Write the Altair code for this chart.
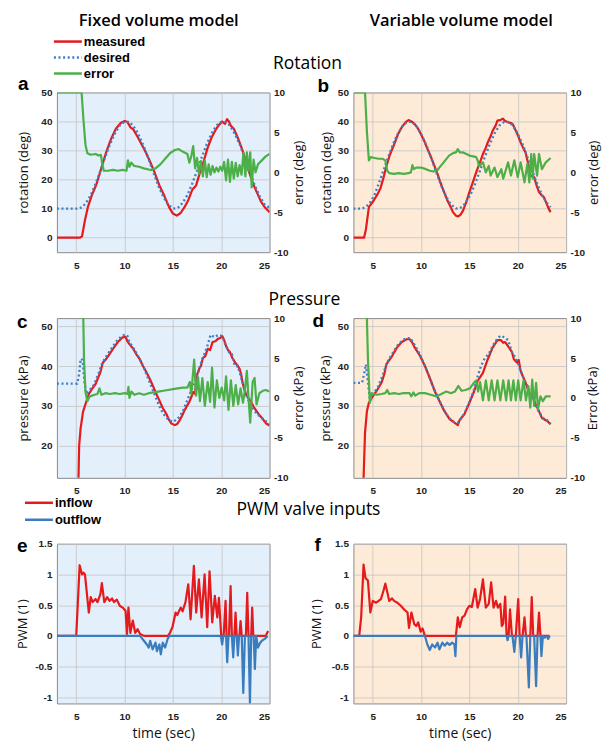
import altair as alt
import pandas as pd

# ---------------- text ----------------
COLUMN_TITLES = ["Fixed volume model", "Variable volume model"]
SECTION_TITLES = ["Rotation", "Pressure", "PWM valve inputs"]
PANEL_LETTERS = ["a", "b", "c", "d", "e", "f"]
LEGEND_1 = ["measured", "desired", "error"]
LEGEND_2 = ["inflow", "outflow"]
X_TICKS = [5, 10, 15, 20, 25]
X_DOMAIN = [3, 25]
ROT_TICKS = [0, 10, 20, 30, 40, 50]
ROT_DOMAIN = [-5, 50]
PRES_TICKS = [20, 30, 40, 50]
PRES_DOMAIN = [12, 52]
ERR_TICKS = [-10, -5, 0, 5, 10]
ERR_DOMAIN = [-10, 10]
PWM_TICKS = [-1, -0.5, 0, 0.5, 1, 1.5]
PWM_DOMAIN = [-1.1, 1.5]

# ---------------- panel a : fixed volume, rotation (t, value) ----------------
a_measured = [(3.0, 0), (5.4, 0), (5.6, 0.5), (5.9, 6), (6.2, 10.5), (6.6, 14.5), (7.1, 18.5), (7.6, 24),
              (8.1, 29.5), (8.6, 34), (9.1, 37.5), (9.6, 39.5), (10.0, 40.2), (10.3, 39.8), (10.6, 38),
              (10.9, 37.3), (11.3, 35), (11.7, 32.5), (12.1, 30), (12.6, 26.5), (13.1, 22.5), (13.6, 18),
              (14.1, 14.5), (14.6, 10.5), (15.0, 8.3), (15.4, 7.6), (15.8, 8.5), (16.2, 10.5), (16.6, 13),
              (17.0, 16.5), (17.4, 18), (17.8, 22.5), (18.2, 26.5), (18.6, 31), (19.0, 34.5), (19.4, 37),
              (19.8, 39), (20.1, 40), (20.4, 39.2), (20.6, 40.8), (20.8, 40), (21.0, 38.5), (21.3, 37.5),
              (21.7, 34.5), (22.1, 31), (22.5, 27), (22.9, 22.5), (23.3, 18.5), (23.7, 15.5), (24.1, 12.5),
              (24.5, 10.5), (25.0, 8.8)]
a_desired = [(3.0, 10), (5.2, 10), (5.6, 10.5), (6.0, 11.9), (6.5, 14.7), (7.0, 18.6), (7.5, 23.1), (8.0, 27.8),
             (8.5, 32.2), (9.0, 35.9), (9.5, 38.6), (10.0, 39.9), (10.4, 39.9), (10.8, 38.9), (11.2, 37.0),
             (11.6, 34.4), (12.0, 31.4), (12.5, 26.9), (13.0, 22.2), (13.5, 17.8), (14.0, 14.1), (14.5, 11.4),
             (15.0, 10.1), (15.3, 10), (15.7, 10.7), (16.1, 12.5), (16.5, 14.7), (17.0, 18.6), (17.5, 23.1),
             (18.0, 27.8), (18.5, 32.2), (19.0, 35.9), (19.5, 38.6), (20.0, 39.9), (20.4, 39.9), (20.8, 38.9),
             (21.2, 37.0), (21.6, 34.4), (22.0, 31.4), (22.5, 26.9), (23.0, 22.2), (23.5, 17.8), (24.0, 14.1),
             (24.5, 11.4), (25.0, 10.3)]
a_error = [(3.0, 10), (5.55, 10), (5.75, 6.5), (5.95, 3.5), (6.15, 2.4), (6.5, 2.2), (7.0, 2.3), (7.3, 2.1),
           (7.55, 2.2), (7.7, 1.0), (7.85, 0.2), (8.3, 0.2), (8.8, 0.3), (9.3, 0.2), (9.8, 0.3), (10.2, 0.2),
           (10.35, 1.5), (10.5, 0.7), (10.7, 1.2), (11.0, 0.8), (11.5, 0.7), (12.0, 0.5), (12.7, 0.3),
           (13.2, 0.5), (13.7, 1.0), (14.2, 1.7), (14.7, 2.4), (15.2, 2.8), (15.6, 2.9), (16.0, 2.6),
           (16.5, 2.3), (16.7, 1.2), (16.9, 2.0), (17.1, 3.3), (17.3, 0.5), (17.5, 1.8), (17.7, -0.2),
           (17.9, 1.4), (18.1, -0.5), (18.3, 1.5), (18.5, -0.6), (18.7, 1.0), (18.9, -0.3), (19.1, 0.8),
           (19.3, 0.0), (19.5, 0.6), (19.7, 0.1), (19.9, 0.7), (20.1, 0.2), (20.3, 1.3), (20.5, -1.0),
           (20.7, 1.6), (20.9, -1.2), (21.1, 1.3), (21.3, -0.8), (21.5, 1.2), (21.7, -0.5), (21.9, 0.9),
           (22.1, -0.3), (22.3, 2.4), (22.5, -0.5), (22.65, 2.5), (22.8, 0.2), (23.0, 2.5), (23.15, -1.9),
           (23.35, 1.6), (23.55, 0.0), (23.8, 1.0), (24.2, 1.5), (24.6, 2.0), (25.0, 2.3)]

# ---------------- panel b : variable volume, rotation ----------------
b_measured = [(3.0, 0), (4.1, 0), (4.3, 3), (4.6, 10.5), (5.1, 12.8), (5.5, 15), (5.8, 17), (6.1, 20.5),
              (6.4, 24.5), (6.8, 28.8), (7.2, 32), (7.6, 35.5), (8.0, 38), (8.4, 39.8), (8.7, 40.5),
              (9.0, 40), (9.3, 39.3), (9.6, 38), (9.9, 36.2), (10.3, 33.5), (10.6, 31), (11.0, 28),
              (11.3, 25.4), (11.7, 22), (12.0, 19), (12.4, 15.5), (12.7, 13), (13.0, 11), (13.3, 8.8),
              (13.6, 7.6), (13.85, 7.3), (14.1, 8), (14.35, 9.4), (14.7, 12.5), (15.0, 15.7), (15.4, 19.5),
              (15.7, 22.5), (16.1, 26), (16.4, 28.8), (16.7, 31), (16.9, 32.8), (17.2, 35), (17.4, 36.8),
              (17.7, 38.5), (17.9, 40.3), (18.2, 40.5), (18.45, 41), (18.7, 40.2), (19.0, 39.7), (19.3, 39.5),
              (19.5, 39), (19.8, 36.8), (20.05, 35), (20.3, 32.8), (20.55, 31), (20.8, 29.4), (21.05, 26),
              (21.3, 21.4), (21.7, 20.8), (21.95, 18), (22.2, 15.7), (22.5, 14.5), (22.7, 14), (22.95, 12),
              (23.2, 10), (23.4, 8.8)]
b_desired = [(3.0, 10), (3.9, 10), (4.3, 10.6), (4.7, 12), (5.2, 14.9), (5.6, 18.5), (6.1, 23.1), (6.6, 27.8),
             (7.1, 32.2), (7.6, 35.9), (8.1, 38.6), (8.6, 39.9), (9.0, 39.9), (9.4, 38.9), (9.8, 37.0),
             (10.2, 34.4), (10.6, 31.4), (11.1, 26.9), (11.6, 22.2), (12.1, 17.8), (12.6, 14.1), (13.1, 11.4),
             (13.6, 10.1), (13.9, 10), (14.3, 10.7), (14.7, 12.5), (15.1, 14.7), (15.6, 18.6), (16.1, 23.1),
             (16.6, 27.8), (17.1, 32.2), (17.6, 35.9), (18.1, 38.6), (18.6, 39.9), (19.0, 39.9), (19.4, 38.9),
             (19.8, 37.0), (20.2, 34.4), (20.6, 31.4), (21.1, 26.9), (21.6, 22.2), (22.1, 17.8), (22.6, 14.1),
             (23.0, 12), (23.4, 10.5)]
b_error = [(3.0, 10), (4.2, 10), (4.4, 5), (4.6, 1.5), (4.8, 1.9), (5.2, 1.8), (5.6, 1.7), (6.0, 1.7),
           (6.3, 1.5), (6.5, 0.2), (6.7, -0.1), (7.2, -0.2), (7.7, -0.1), (8.2, -0.2), (8.7, -0.1),
           (8.95, 0.0), (9.1, 0.9), (9.25, 0.4), (9.5, 0.6), (10.0, 0.6), (10.5, 0.4), (10.9, 0.2),
           (11.3, 0.1), (11.7, 0.3), (12.1, 0.9), (12.5, 1.5), (12.9, 2.1), (13.3, 2.4), (13.6, 2.5),
           (13.8, 2.9), (14.0, 2.5), (14.3, 2.5), (14.7, 2.3), (15.0, 2.1), (15.4, 2.0), (15.7, 1.9),
           (15.85, 1.5), (16.0, 0.8), (16.2, 1.0), (16.4, 1.25), (16.7, 0.0), (17.0, 0.8), (17.2, -0.4),
           (17.6, 0.6), (17.9, -0.6), (18.3, 0.4), (18.5, -0.8), (19.0, 1.25), (19.3, -0.4), (19.65, 1.5),
           (20.0, -0.6), (20.3, 1.25), (20.7, -1.25), (21.0, 1.1), (21.2, -1.25), (21.4, 2.3), (21.55, -0.8),
           (21.7, 2.3), (22.0, -0.4), (22.2, 2.3), (22.5, 0.4), (22.9, 1.25), (23.4, 1.8)]

# ---------------- panel c : fixed volume, pressure ----------------
c_measured = [(5.2, 8), (5.3, 20), (5.45, 24.4), (5.7, 28.5), (6.0, 30.8), (6.3, 33), (6.7, 34.5), (7.0, 35.5),
              (7.25, 37), (7.5, 38.5), (7.75, 40.8), (8.0, 41.5), (8.3, 42.5), (8.8, 44.3), (9.3, 46),
              (9.8, 47.2), (10.1, 47.3), (10.3, 46.2), (10.5, 45.5), (10.9, 44.3), (11.2, 43), (11.55, 41.8),
              (11.9, 40), (12.25, 38.5), (12.6, 36.8), (12.9, 35.2), (13.25, 33.2), (13.6, 31.4), (13.95, 29.5),
              (14.3, 28.1), (14.6, 26.5), (14.85, 25.6), (15.2, 25.2), (15.45, 25.5), (15.7, 26.4), (16.0, 27.8),
              (16.2, 28.9), (16.5, 30.2), (16.7, 31), (16.95, 32.5), (17.1, 33.5), (17.3, 33), (17.35, 35),
              (17.5, 37.8), (17.75, 39.5), (17.9, 40), (18.1, 42), (18.35, 42.5), (18.6, 44.3), (18.85, 44),
              (19.1, 46), (19.4, 46.2), (19.65, 46.8), (19.9, 47), (20.1, 47.5), (20.3, 46.5), (20.5, 45),
              (20.7, 44), (20.9, 43.5), (21.15, 42), (21.4, 41), (21.65, 40.2), (21.9, 39.3), (22.05, 38),
              (22.2, 36), (22.4, 34), (22.6, 32.7), (22.85, 31.8), (23.1, 31), (23.35, 29.8), (23.6, 28.9),
              (23.85, 28), (24.1, 27.3), (24.4, 26.4), (24.65, 25.6), (25.0, 25.1)]
c_desired = [(3.0, 35.6), (5.1, 35.6), (5.3, 38), (5.45, 41.8), (5.65, 41.5), (5.85, 36), (6.05, 33), (6.4, 34),
             (6.8, 35.2), (7.2, 37.5), (7.7, 40.8), (8.2, 42.8), (8.7, 44.6), (9.2, 46.3), (9.7, 47.5),
             (10.05, 47.9), (10.3, 47.5), (10.5, 46), (11.0, 44.2), (11.5, 42), (12.0, 39.5), (12.5, 36.5),
             (13.0, 33.5), (13.5, 30.5), (14.0, 28), (14.5, 26.6), (15.0, 26), (15.5, 26.8), (16.0, 28.5),
             (16.5, 31.5), (17.0, 34.5), (17.5, 37.5), (18.0, 41.5), (18.5, 44.5), (18.9, 47.8), (19.3, 47.2),
             (19.7, 47.8), (20.1, 47.5), (20.5, 45), (20.8, 43.5), (21.1, 43), (21.4, 40), (21.7, 40),
             (21.9, 38.5), (22.3, 35), (22.7, 32), (23.2, 29.5), (23.7, 28), (24.2, 27), (24.7, 26), (25.0, 25.5)]
c_error = [(5.7, 12), (5.8, 5), (5.95, 0.8), (6.15, -0.4), (6.4, 0.2), (6.9, 0.4), (7.2, 0.5), (7.4, 1.2),
           (7.6, 0.4), (8.0, 0.6), (8.5, 0.5), (9.0, 0.6), (9.5, 0.5), (10.0, 0.6), (10.3, 0.5), (10.4, 1.4),
           (10.5, 0.0), (10.7, 0.8), (11.0, 0.4), (11.5, 0.6), (12.0, 0.4), (12.5, 0.6), (13.0, 0.7),
           (13.5, 0.8), (14.0, 0.9), (14.5, 1.0), (15.0, 1.1), (15.5, 1.2), (16.0, 1.3), (16.5, 1.3),
           (16.75, 2.0), (16.9, 0.5), (17.2, 4.8), (17.4, 0.3), (17.6, 2.6), (17.8, -0.4), (18.05, 2.5),
           (18.3, -1.0), (18.6, 2.0), (18.85, -0.5), (19.05, 3.8), (19.3, -1.2), (19.55, 2.2), (19.8, 0.0),
           (20.05, 1.3), (20.3, -0.3), (20.5, 2.7), (20.75, -1.5), (21.0, 2.2), (21.25, -1.0), (21.5, 1.6),
           (21.75, -0.8), (22.0, 1.2), (22.25, -0.6), (22.45, 1.0), (22.65, 3.4), (22.85, -0.5), (23.0, -3.1),
           (23.25, 2.0), (23.45, 2.5), (23.65, -0.8), (23.95, 0.6), (24.3, 0.9), (24.6, 1.0), (25.0, 0.8)]

# ---------------- panel d : variable volume, pressure ----------------
d_measured = [(4.0, 8), (4.2, 23.3), (4.4, 28.75), (4.6, 30.8), (4.9, 32), (5.4, 33.75), (5.9, 35.8), (6.2, 38),
              (6.4, 40.4), (7.0, 42.5), (7.5, 44.6), (8.0, 46), (8.5, 46.7), (8.85, 46.7), (9.1, 45.8),
              (9.35, 44.6), (9.9, 42.5), (10.4, 40), (10.9, 37), (11.4, 33.75), (11.9, 31.25), (12.4, 28.75),
              (12.95, 26.7), (13.45, 25.8), (13.8, 25.2), (14.0, 26.5), (14.5, 28), (15.0, 30.8), (15.5, 33.75),
              (15.85, 36.25), (16.4, 38.3), (16.9, 41.7), (17.4, 44.6), (17.9, 46.5), (18.25, 46.5), (18.5, 45.8),
              (18.7, 46), (19.1, 44.6), (19.4, 43.5), (19.6, 41.7), (19.95, 40.8), (20.1, 41.5), (20.3, 38.75),
              (20.8, 35.8), (21.2, 33.3), (21.5, 32.5), (21.85, 30.4), (22.2, 28.7), (22.5, 27), (23.05, 26.25),
              (23.4, 25.4)]
d_desired = [(3.0, 35.8), (3.9, 35.8), (4.1, 38), (4.3, 40.4), (4.5, 36), (4.7, 31.5), (5.0, 33), (5.5, 34.5),
             (6.0, 37.5), (6.5, 41), (7.0, 43), (7.5, 45), (8.0, 46.3), (8.5, 47.0), (8.9, 47), (9.4, 45),
             (9.9, 42.8), (10.4, 40), (10.9, 37), (11.4, 34), (11.9, 31.3), (12.4, 28.8), (12.9, 27), (13.4, 26),
             (13.8, 25.8), (14.2, 27), (14.6, 28.8), (15.0, 31), (15.4, 33.5), (15.8, 37), (16.2, 40), (16.6, 42),
             (17.0, 43), (17.4, 45), (17.8, 46.5), (18.2, 47.6), (18.6, 47.2), (19.0, 46.5), (19.4, 43.5),
             (19.8, 42), (20.2, 39.5), (20.6, 37), (21.0, 35), (21.4, 32.5), (21.8, 30.5), (22.2, 28.5),
             (22.6, 27), (23.0, 26.5), (23.4, 25.5)]
d_error = [(4.35, 12), (4.5, 5), (4.7, -0.6), (4.9, 0.6), (5.4, 0.4), (5.9, 0.5), (6.3, 0.6), (6.5, 1.0),
           (6.7, 0.5), (7.2, 0.6), (7.7, 0.5), (8.2, 0.6), (8.8, 0.6), (9.0, 0.2), (9.2, 0.7), (9.4, 0.3),
           (9.8, 0.6), (10.4, 0.6), (11.0, 0.4), (11.6, 0.2), (12.1, 0.5), (12.6, 0.8), (13.1, 0.6),
           (13.5, 0.8), (13.85, 1.5), (14.2, 0.9), (14.6, 1.0), (15.05, 1.2), (15.4, 1.8), (15.7, 2.2),
           (15.9, 0.8), (16.1, 2.0), (16.4, -0.3), (16.7, 2.2), (17.0, -0.3), (17.3, 2.2), (17.6, -0.3),
           (17.9, 2.2), (18.2, -0.3), (18.5, 2.2), (18.8, -0.3), (19.05, 2.2), (19.3, -0.3), (19.55, 2.2),
           (19.8, -0.3), (20.05, 2.2), (20.3, -0.3), (20.6, 2.2), (20.85, -0.3), (21.1, 1.5), (21.3, -1.2),
           (21.5, 2.3), (21.7, -1.0), (21.9, 1.9), (22.1, -1.4), (22.35, 0.2), (22.6, -0.4), (22.9, 0.2),
           (23.4, 0.2)]

# ---------------- panel e : fixed volume, PWM ----------------
e_inflow = [(3.0, 0), (5.0, 0), (5.35, 1.15), (5.6, 1.0), (5.75, 1.03), (5.9, 1.0), (6.3, 0.38), (6.5, 0.63),
            (6.7, 0.55), (7.0, 0.6), (7.2, 0.55), (7.5, 0.68), (7.65, 0.86), (7.9, 0.55), (8.2, 0.63),
            (8.45, 0.57), (8.7, 0.61), (8.9, 0.55), (9.2, 0.59), (9.5, 0.49), (9.8, 0.46), (10.1, 0.41),
            (10.25, 0.03), (10.4, 0.46), (10.6, 0.05), (10.85, 0.25), (11.1, 0.05), (11.35, 0.11), (11.6, 0.03),
            (12.0, 0), (14.5, 0), (14.7, 0.05), (14.95, 0.14), (15.28, 0.38), (15.45, 0.34), (15.8, 0.46),
            (16.0, 0.4), (16.3, 0.55), (16.59, 0.84), (16.83, 0.27), (17.17, 1.14), (17.41, 0.38), (17.69, 0.92),
            (17.97, 0.3), (18.28, 1.0), (18.55, 0.14), (18.79, 1.05), (19.07, 0.22), (19.34, 0.65), (19.59, 0.3),
            (19.76, 0.62), (20.0, 0), (20.25, 0), (20.45, 0.57), (20.55, 0), (20.8, 0), (20.97, 0.81), (21.1, 0),
            (21.36, 0), (21.48, 0.38), (21.6, 0), (21.88, 0), (22.0, 0.24), (22.12, 0), (22.55, 0), (22.69, 0.7),
            (22.82, 0), (23.1, 0), (23.2, 0.46), (23.32, 0), (24.6, 0), (24.85, 0.08)]
e_outflow = [(3.0, 0), (11.6, 0), (12.0, -0.08), (12.3, -0.14), (12.5, -0.19), (12.65, -0.08), (12.9, -0.22),
             (13.2, -0.11), (13.35, -0.25), (13.6, -0.14), (13.75, -0.3), (13.95, -0.11), (14.2, -0.19),
             (14.45, -0.05), (14.65, 0), (19.95, 0), (20.1, -0.14), (20.22, 0), (20.5, 0), (20.62, -0.43),
             (20.75, 0), (21.1, 0), (21.24, -0.35), (21.36, 0), (21.6, 0), (21.72, -0.32), (21.85, 0),
             (22.12, 0), (22.28, -0.93), (22.45, 0), (22.82, 0), (22.97, -1.09), (23.1, 0), (23.35, 0),
             (23.48, -0.54), (23.62, 0), (23.8, -0.19), (24.0, -0.12), (24.2, -0.08), (24.5, -0.05), (24.8, 0)]

# ---------------- panel f : variable volume, PWM ----------------
f_inflow = [(3.0, 0), (3.6, 0), (3.8, 0.3), (4.05, 1.16), (4.25, 0.94), (4.5, 0.9), (4.75, 0.38), (5.0, 0.57),
            (5.35, 0.54), (5.6, 0.57), (5.85, 0.6), (6.1, 0.73), (6.3, 0.85), (6.55, 0.68), (6.7, 0.57),
            (7.0, 0.61), (7.2, 0.57), (7.55, 0.54), (7.9, 0.49), (8.25, 0.43), (8.6, 0.38), (8.75, 0.13),
            (9.0, 0.38), (9.3, 0.19), (9.5, 0.16), (9.7, 0.22), (9.95, 0.07), (10.15, 0.12), (10.4, 0),
            (13.6, 0), (13.8, 0.3), (14.0, 0.14), (14.25, 0.3), (14.5, 0.33), (14.75, 0.43), (15.0, 0.49),
            (15.25, 0.47), (15.6, 0.76), (15.85, 0.46), (16.1, 0.6), (16.4, 0.92), (16.7, 0.46), (17.0, 0.52),
            (17.25, 0.87), (17.5, 0.46), (17.75, 0.57), (17.95, 0.46), (18.2, 0.52), (18.35, 0.16), (18.5, 0.2),
            (18.7, 0.64), (18.85, 0), (19.05, 0), (19.2, 0.43), (19.4, 0), (19.8, 0), (20.05, 0.6), (20.2, 0),
            (20.5, 0), (20.7, 0.3), (20.85, 0), (21.3, 0), (21.45, 0.63), (21.6, 0), (22.05, 0), (22.2, 0.38),
            (22.35, 0), (23.3, 0)]
f_outflow = [(3.0, 0), (10.4, 0), (10.65, -0.14), (10.9, -0.23), (11.15, -0.14), (11.45, -0.19), (11.7, -0.11),
             (11.9, -0.22), (12.2, -0.11), (12.45, -0.16), (12.7, -0.11), (12.95, -0.15), (13.2, -0.11),
             (13.45, -0.14), (13.55, -0.33), (13.65, 0), (18.85, 0), (18.95, -0.07), (19.05, 0), (19.45, 0),
             (19.65, -0.26), (19.8, 0), (20.2, 0), (20.35, -0.35), (20.5, 0), (20.9, 0), (21.15, -0.84),
             (21.3, 0), (21.7, 0), (21.9, -0.82), (22.05, 0), (22.35, 0), (22.45, -0.33), (22.6, 0),
             (22.8, -0.03), (23.0, 0), (23.15, -0.05), (23.3, 0)]

# ---------------- style ----------------
RED = "#e41a1c"
BLUE_DOT = "#3b7fc4"
GREEN = "#4caf48"
BLUE = "#3a7dbf"
BG_FIXED = "#e4effc"
BG_VAR = "#fdebd8"
FRAME = "#8a8a8a"
W, H = 213, 160
LBL = "'' + datum.value"


def df(pairs):
    return pd.DataFrame(pairs, columns=["t", "v"])


def xenc(title=None):
    if title:
        ax = alt.Axis(values=X_TICKS, grid=True, labelPadding=8, title=title,
                      titleY=34, titleBaseline="alphabetic", titleFontSize=14)
    else:
        ax = alt.Axis(values=X_TICKS, grid=True, labelPadding=8, title=None)
    return alt.X("t:Q", scale=alt.Scale(domain=X_DOMAIN, nice=False, zero=False), axis=ax)


def yleft(domain, ticks, title, tx):
    return alt.Y("v:Q", scale=alt.Scale(domain=domain, nice=False, zero=False),
                 axis=alt.Axis(values=ticks, title=title, grid=True, labelPadding=5, labelExpr=LBL,
                               titleX=tx, titleY=H / 2, titleAngle=270, titleAlign="center",
                               titleBaseline="alphabetic"))


def yright(title, tx):
    return alt.Y("v:Q", scale=alt.Scale(domain=ERR_DOMAIN, nice=False, zero=False),
                 axis=alt.Axis(orient="right", values=ERR_TICKS, title=title, grid=False, labelPadding=4,
                               labelExpr=LBL, titleX=tx, titleY=H / 2, titleAngle=270,
                               titleAlign="center", titleBaseline="alphabetic"))


def label(text, x, y, size, weight="normal", font="Open Sans", align="left"):
    return alt.Chart(pd.DataFrame({"s": [text]})).mark_text(
        align=align, baseline="alphabetic", fontSize=size, fontWeight=weight, font=font, color="#000000"
    ).encode(text="s:N", x=alt.value(x), y=alt.value(y))


def legend_line(color, x1, x2, y, dash=None):
    kw = dict(color=color, strokeWidth=2.5)
    if dash:
        kw["strokeDash"] = dash
    return alt.Chart(pd.DataFrame({"k": [0]})).mark_rule(**kw).encode(
        x=alt.value(x1), x2=alt.value(x2), y=alt.value(y))


def letter(ch, x, y):
    return label(ch, x, y, 19, "bold", "Liberation Sans")


def legend_text(text, x, y):
    return label(text, x, y, 13, "bold", "Liberation Sans")


def dual_panel(meas, des, err, bg, ydom, yticks, ytitle, etitle, ltx, rtx, extras):
    x = xenc()
    yl = yleft(ydom, yticks, ytitle, ltx)
    left = alt.layer(
        alt.Chart(df(meas)).mark_line(color=RED, strokeWidth=2.2, clip=True, strokeJoin="round").encode(x=x, y=yl),
        alt.Chart(df(des)).mark_line(color=BLUE_DOT, strokeWidth=2.3, strokeDash=[2, 2.6], clip=True).encode(x=x, y=yl),
    )
    right = alt.Chart(df(err)).mark_line(color=GREEN, strokeWidth=2.2, clip=True, strokeJoin="round").encode(
        x=x, y=yright(etitle, rtx))
    return alt.layer(left, right, *extras).resolve_scale(y="independent").properties(
        width=W, height=H, view=alt.ViewBackground(fill=bg, stroke=FRAME))


def pwm_panel(inflow, outflow, bg, tx, extras):
    x = xenc("time (sec)")
    y = yleft(PWM_DOMAIN, PWM_TICKS, "PWM (1)", tx)
    return alt.layer(
        alt.Chart(df(inflow)).mark_line(color=RED, strokeWidth=2.2, clip=True, strokeJoin="round").encode(x=x, y=y),
        alt.Chart(df(outflow)).mark_line(color=BLUE, strokeWidth=2.2, clip=True, strokeJoin="round").encode(x=x, y=y),
        *extras,
    ).properties(width=W, height=H, view=alt.ViewBackground(fill=bg, stroke=FRAME))


pa = dual_panel(a_measured, a_desired, a_error, BG_FIXED, ROT_DOMAIN, ROT_TICKS, "rotation (deg)", "error (deg)",
                -29, 33, [
                    label(COLUMN_TITLES[0], 102, -67, 16.5, 600, align="center"),
                    label(SECTION_TITLES[0], 251, -24, 17.5, 500, align="center"),
                    legend_line(RED, -3, 25, -51),
                    legend_line(BLUE_DOT, -3, 25, -35, dash=[2, 2.6]),
                    legend_line(GREEN, -3, 25, -19),
                    legend_text(LEGEND_1[0], 27, -46.5),
                    legend_text(LEGEND_1[1], 27, -30.5),
                    legend_text(LEGEND_1[2], 27, -14.5),
                    letter(PANEL_LETTERS[0], -39, -2),
                ])
pb = dual_panel(b_measured, b_desired, b_error, BG_VAR, ROT_DOMAIN, ROT_TICKS, "rotation (deg)", "error (deg)",
                -23, 31, [
                    label(COLUMN_TITLES[1], 108, -67, 16.5, 600, align="center"),
                    letter(PANEL_LETTERS[1], -36, 0),
                ])
pc = dual_panel(c_measured, c_desired, c_error, BG_FIXED, PRES_DOMAIN, PRES_TICKS, "pressure (kPa)", "error (kPa)",
                -29, 33, [
                    label(SECTION_TITLES[1], 248, -13, 17.5, 500, align="center"),
                    letter(PANEL_LETTERS[2], -40, 10),
                ])
pd_ = dual_panel(d_measured, d_desired, d_error, BG_VAR, PRES_DOMAIN, PRES_TICKS, "pressure (kPa)", "Error (kPa)",
                 -24, 30, [
                     letter(PANEL_LETTERS[3], -41, 9),
                 ])
pe = pwm_panel(e_inflow, e_outflow, BG_FIXED, -30, [
    label(SECTION_TITLES[2], 252, -29, 17.5, 500, align="center"),
    legend_line(RED, -32, -4, -41),
    legend_line(BLUE, -32, -4, -24),
    legend_text(LEGEND_2[0], -2, -36.5),
    legend_text(LEGEND_2[1], -2, -19.5),
    letter(PANEL_LETTERS[4], -40, 8),
])
pf = pwm_panel(f_inflow, f_outflow, BG_VAR, -33, [
    letter(PANEL_LETTERS[5], -39, 7),
])

chart = alt.concat(
    pa, pb, pc, pd_, pe, pf, columns=2, spacing={"row": 66, "column": 84}, bounds="flush"
).properties(
    padding={"left": 8, "top": 3, "right": 4, "bottom": 4}
).configure_axis(
    labelFont="Liberation Sans", labelFontWeight="bold", labelFontSize=10, labelColor="#222222",
    titleFont="Open Sans", titleFontSize=13, titleFontWeight="normal", titleColor="#111111",
    gridColor="#c4c4c4", gridOpacity=0.8, domain=False, ticks=False
).configure_view(stroke=FRAME)

chart.save("out.html", embed_options={"renderer": "svg", "actions": False})
